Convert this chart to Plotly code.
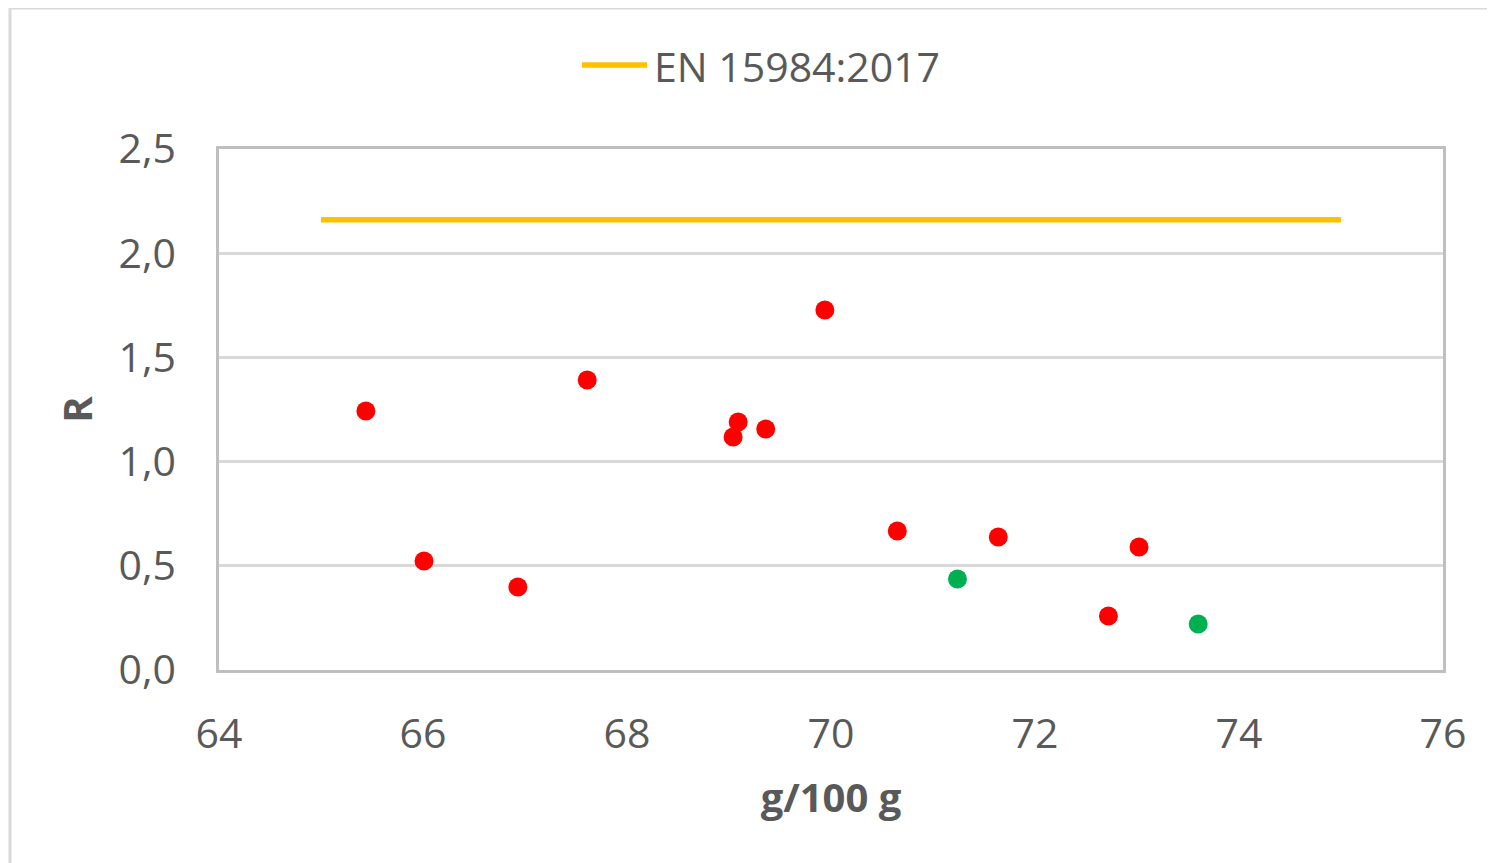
import plotly.graph_objects as go

# Data
x_red = [65.44, 66.01, 66.93, 67.61, 69.04, 69.09, 69.36, 69.94, 70.65, 71.64, 72.72, 73.02]
y_red = [1.243, 0.523, 0.398, 1.392, 1.118, 1.19, 1.156, 1.727, 0.667, 0.638, 0.259, 0.590]
x_green = [71.24, 73.60]
y_green = [0.437, 0.221]
x_limit = [65, 75]
y_limit = [2.16, 2.16]
limit_name = "EN 15984:2017"
x_ticks = [64, 66, 68, 70, 72, 74, 76]
y_ticks = [0.0, 0.5, 1.0, 1.5, 2.0, 2.5]
y_ticklabels = ["0,0", "0,5", "1,0", "1,5", "2,0", "2,5"]

# page has an 8px body margin
OFF = 8
W, H = 1495 - OFF, 863 - OFF
L, T = 219 - OFF, 149 - OFF
R = W - (1443 - OFF)
B = H - (670 - OFF)
pw, ph = W - L - R, H - T - B

FONT = "Open Sans"
TXT = "#595959"
LIMIT_COLOR = "#FFC000"

def px2paperx(p):  # page px -> paper
    return (p - OFF - L) / pw

def px2papery(p):
    return (H - B - (p - OFF)) / ph

fig = go.Figure()
fig.add_trace(go.Scatter(x=x_limit, y=y_limit, mode="lines", name=limit_name,
                         line=dict(color=LIMIT_COLOR, width=5.5), showlegend=False))
fig.add_trace(go.Scatter(x=x_red, y=y_red, mode="markers", showlegend=False,
                         marker=dict(color="#FF0000", size=19, line=dict(width=0))))
fig.add_trace(go.Scatter(x=x_green, y=y_green, mode="markers", showlegend=False,
                         marker=dict(color="#00B050", size=19, line=dict(width=0))))

fig.update_layout(
    width=W, height=H,
    margin=dict(l=L, r=R, t=T, b=B),
    paper_bgcolor="white", plot_bgcolor="white",
    font=dict(family=FONT, color=TXT, size=41),
    showlegend=False,
    xaxis=dict(range=[64, 76], tickvals=x_ticks, showgrid=False, zeroline=False,
               showline=True, linecolor="#BFBFBF", linewidth=2.5, mirror=True,
               ticks="outside", ticklen=26, tickcolor="rgba(0,0,0,0)",
               tickfont=dict(family=FONT, size=41, color=TXT),
               title=dict(text="<b>g/100 g</b>", standoff=26,
                          font=dict(family=FONT, size=40, color=TXT))),
    yaxis=dict(range=[0, 2.5], tickvals=y_ticks, ticktext=y_ticklabels,
               showgrid=True, gridcolor="#D9D9D9", gridwidth=2.5, zeroline=False,
               showline=True, linecolor="#BFBFBF", linewidth=2.5, mirror=True,
               ticks="outside", ticklen=32, tickcolor="rgba(0,0,0,0)",
               tickfont=dict(family=FONT, size=41, color=TXT),
               title=dict(text="<b>R</b>", standoff=14,
                          font=dict(family=FONT, size=40, color=TXT))),
)

# legend (drawn manually to match the long line sample)
fig.add_shape(type="line", xref="paper", yref="paper",
              x0=px2paperx(582), x1=px2paperx(647), y0=px2papery(65), y1=px2papery(65),
              line=dict(color=LIMIT_COLOR, width=5.5))
fig.add_annotation(text=limit_name, xref="paper", yref="paper",
                   x=px2paperx(652), y=px2papery(66), xanchor="left", yanchor="middle",
                   showarrow=False, font=dict(family=FONT, size=41, color=TXT))

# outer chart border (left/top visible)
fig.add_shape(type="rect", xref="paper", yref="paper",
              x0=px2paperx(10), x1=px2paperx(1520), y0=px2papery(900), y1=px2papery(8),
              line=dict(color="#D9D9D9", width=3), fillcolor="rgba(0,0,0,0)", layer="below")

fig.write_html("out.html")
